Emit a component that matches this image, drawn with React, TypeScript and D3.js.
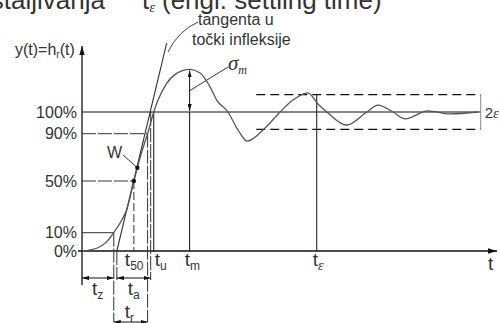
import React from 'react';
import * as d3 from 'd3';

const W = 499;
const H = 323;
const FONT = "'Liberation Sans', Arial, sans-serif";
const SERIF = "'Liberation Serif', 'DejaVu Serif', serif";

// time axis (arbitrary units) and response level in percent
const T_MAX = 20;
const LEVEL_TICKS = [0, 10, 50, 90, 100];
const LEVEL_LABELS = ['0%', '10%', '50%', '90%', '100%'];

// step response h_r(t): time samples and level samples (%)
const RESP_T = [0, 0.72, 1.2, 1.55, 1.94, 2.18, 2.53, 2.7, 2.93, 3.2, 3.5, 3.71, 4.13, 4.62, 5.25, 5.76, 6.24, 6.57, 7.12, 7.61, 8.05, 8.93, 9.66, 10.29, 11.02, 11.51, 12.0, 12.91, 13.89, 14.44, 15.17, 15.76, 16.88, 17.95, 19.32];
const RESP_Y = [0, 1.5, 5, 10, 19.8, 27.6, 50, 61.2, 75.4, 90, 100, 105.5, 113.2, 117.8, 119.6, 118, 111.7, 105.5, 100, 91.7, 83.8, 92.6, 100, 105.5, 108.8, 103.7, 99.5, 94, 100, 103.2, 100, 96.8, 100.5, 99.1, 100];

// characteristic times
const T_10 = 1.55;
const T_TAN0 = 1.7;
const T_50 = 2.53;
const T_W = 2.7;
const T_90 = 3.2;
const T_TAN100 = 3.35;
const T_U = 3.5;
const T_M = 5.25;
const T_EPS = 11.45;

// inflection point level, overshoot peak, tolerance band
const Y_W = 61.2;
const Y_PEAK = 119.6;
const EPS = 8;
const BAND_T = [8.5, 19.45];
const TANGENT_T = [T_TAN0, 4.13];
const TANGENT_Y = [0, 131.7];

export default function App() {
  const x = d3.scaleLinear().domain([0, T_MAX]).range([82, 492]);
  const y = d3
    .scaleLinear()
    .domain([0, 10, 50, 90, 100, 110])
    .range([251, 232.7, 181, 133.7, 112, 90.3]);

  const resp = RESP_T.map((t, i) => ({ t, v: RESP_Y[i] }));
  const line = d3
    .line<{ t: number; v: number }>()
    .x((d) => x(d.t))
    .y((d) => y(d.v))
    .curve(d3.curveMonotoneX);

  const x0 = x(0);
  const y0 = y(0);
  const rowA = 278;
  const rowR = 322;
  const dash = '14 2';
  const ink = '#111';
  const txt = '#333';

  const tLabel = (px: number, py: number, sub: string, italicSub = false) => (
    <text x={px} y={py} fontSize={19} fill={txt} fontFamily={FONT}>
      t
      <tspan
        fontSize={italicSub ? 14 : 12}
        dy={4}
        fontFamily={italicSub ? SERIF : FONT}
        fontStyle={italicSub ? 'italic' : 'normal'}
      >
        {sub}
      </tspan>
    </text>
  );

  return (
    <svg
      width={W}
      height={H}
      style={{ position: 'absolute', left: 0, top: 0, background: '#fff' }}
      fontFamily={FONT}
    >
      <defs>
        <marker
          id="ah"
          viewBox="0 0 10 6"
          refX={10}
          refY={3}
          markerWidth={7}
          markerHeight={4.2}
          markerUnits="userSpaceOnUse"
          orient="auto-start-reverse"
        >
          <path d="M0,0L10,3L0,6z" fill={ink} />
        </marker>
        <marker
          id="axh"
          viewBox="0 0 10 6"
          refX={10}
          refY={3}
          markerWidth={9}
          markerHeight={5.4}
          markerUnits="userSpaceOnUse"
          orient="auto"
        >
          <path d="M0,0L10,3L0,6z" fill={ink} />
        </marker>
      </defs>

      {/* heading line */}
      <text x={105} y={9} fontSize={26} textAnchor="end" fill={txt}>
        ustaljivanja
      </text>
      <text x={142} y={9} fontSize={26} fill={txt}>
        t
        <tspan fontSize={15} dy={3} fontFamily={SERIF} fontStyle="italic">
          ε
        </tspan>
      </text>
      <text x={162} y={9} fontSize={26} fill={txt}>
        (engl. settling time)
      </text>

      {/* axes */}
      <line x1={x0} y1={285} x2={x0} y2={46} stroke={ink} strokeWidth={1.3} markerEnd="url(#axh)" />
      <line x1={78} y1={y0} x2={497} y2={y0} stroke={ink} strokeWidth={1.3} markerEnd="url(#axh)" />
      <text x={15} y={55} fontSize={16} fill={txt}>
        y(t)=h
        <tspan fontSize={10} dy={3}>r</tspan>
        <tspan dy={-3}>(t)</tspan>
      </text>
      <text x={488} y={270} fontSize={19} fill={txt}>t</text>

      {/* level labels */}
      {LEVEL_TICKS.map((v, i) => (
        <text key={v} x={77} y={y(v) + 5.5} fontSize={16} textAnchor="end" fill={txt}>
          {LEVEL_LABELS[i]}
        </text>
      ))}

      {/* level guide lines */}
      <line x1={x0} y1={y(100)} x2={x(BAND_T[1])} y2={y(100)} stroke={ink} strokeWidth={1.2} />
      <line x1={x0} y1={y(90)} x2={x(T_90)} y2={y(90)} stroke="#333" strokeDasharray={dash} />
      <line x1={x0} y1={y(50)} x2={x(T_50)} y2={y(50)} stroke="#333" strokeDasharray={dash} />
      <line x1={x0} y1={y(10)} x2={x(T_10)} y2={y(10)} stroke="#333" />

      {/* tolerance band */}
      <line x1={x(BAND_T[0])} y1={y(100 + EPS)} x2={x(BAND_T[1])} y2={y(100 + EPS)} stroke={ink} strokeDasharray="9 5" strokeWidth={1.2} />
      <line x1={x(BAND_T[0])} y1={y(100 - EPS)} x2={x(BAND_T[1])} y2={y(100 - EPS)} stroke={ink} strokeDasharray="9 5" strokeWidth={1.2} />
      <line x1={x(BAND_T[1])} y1={y(100 + EPS)} x2={x(BAND_T[1])} y2={y(100 - EPS)} stroke="#888" />
      <text x={x(BAND_T[1]) + 4} y={y(100) + 6} fontSize={15} fill={txt}>
        2<tspan fontFamily={SERIF} fontStyle="italic">ε</tspan>
      </text>

      {/* time markers */}
      <line x1={x(T_10)} y1={y(10)} x2={x(T_10)} y2={rowR} stroke="#333" strokeDasharray={dash} />
      <line x1={x(T_TAN0)} y1={y0} x2={x(T_TAN0)} y2={rowA + 2} stroke="#333" strokeDasharray={dash} />
      <line x1={x(T_90)} y1={y(90)} x2={x(T_90)} y2={rowR} stroke="#333" strokeDasharray={dash} />
      <line x1={x(T_TAN100)} y1={y(100)} x2={x(T_TAN100)} y2={rowA + 2} stroke="#333" strokeDasharray={dash} />
      <line x1={x(T_50)} y1={y(50)} x2={x(T_50)} y2={y0} stroke="#333" strokeDasharray="8 3" />
      <line x1={x(T_U)} y1={y(100)} x2={x(T_U)} y2={y0} stroke={ink} />
      <line x1={x(T_M)} y1={y(100)} x2={x(T_M)} y2={y0} stroke={ink} />
      <line x1={x(T_EPS)} y1={y(100 + EPS)} x2={x(T_EPS)} y2={y0} stroke={ink} />

      {/* overshoot arrow */}
      <line
        x1={x(T_M)}
        y1={y(100) - 1}
        x2={x(T_M)}
        y2={y(Y_PEAK) + 1}
        stroke={ink}
        markerStart="url(#ah)"
        markerEnd="url(#ah)"
      />
      <line x1={228} y1={67} x2={x(T_M)} y2={y((Y_PEAK + 100) / 2)} stroke="#333" />
      <text x={228} y={70} fontSize={21} fontFamily={SERIF} fontStyle="italic" fill={txt}>
        σ<tspan fontSize={12} dy={4}>m</tspan>
      </text>

      {/* interval dimensions */}
      <line x1={x0} y1={rowA} x2={x(T_10)} y2={rowA} stroke={ink} markerStart="url(#ah)" markerEnd="url(#ah)" />
      <line x1={x(T_TAN0)} y1={rowA} x2={x(T_TAN100)} y2={rowA} stroke={ink} markerStart="url(#ah)" markerEnd="url(#ah)" />
      <line x1={x(T_10)} y1={rowR} x2={x(T_90)} y2={rowR} stroke={ink} markerStart="url(#ah)" markerEnd="url(#ah)" />
      {tLabel((x0 + x(T_10)) / 2 - 6, 295, 'z')}
      {tLabel((x(T_TAN0) + x(T_TAN100)) / 2 - 6, 295, 'a')}
      {tLabel((x(T_10) + x(T_90)) / 2 - 6, 318, 'r')}

      {/* inflection tangent */}
      <line
        x1={x(TANGENT_T[0])}
        y1={y(TANGENT_Y[0])}
        x2={x(TANGENT_T[1])}
        y2={y(TANGENT_Y[1])}
        stroke="#333"
        strokeWidth={1.1}
      />
      <path d="M198,22 Q178,31 168,52" fill="none" stroke="#444" />
      <text x={198} y={25} fontSize={16} fill={txt}>tangenta u</text>
      <text x={192} y={45} fontSize={16} fill={txt}>točki infleksije</text>

      {/* step response */}
      <path d={line(resp) ?? ''} fill="none" stroke="#555" strokeWidth={1.3} />

      {/* marked points */}
      <circle cx={x(T_W)} cy={y(Y_W)} r={2.2} fill={ink} />
      <circle cx={x(T_50)} cy={y(50)} r={2.2} fill={ink} />
      <line x1={123} y1={155} x2={x(T_W) - 1} y2={y(Y_W) - 1} stroke="#333" />
      <text x={107} y={158} fontSize={16} fill={txt}>W</text>

      {/* time labels on the axis */}
      {tLabel(x(T_50) - 9, 266, '50')}
      {tLabel(x(T_U) + 1, 266, 'u')}
      {tLabel(x(T_M) - 5, 266, 'm')}
      {tLabel(x(T_EPS) - 4, 266, 'ε', true)}
    </svg>
  );
}
